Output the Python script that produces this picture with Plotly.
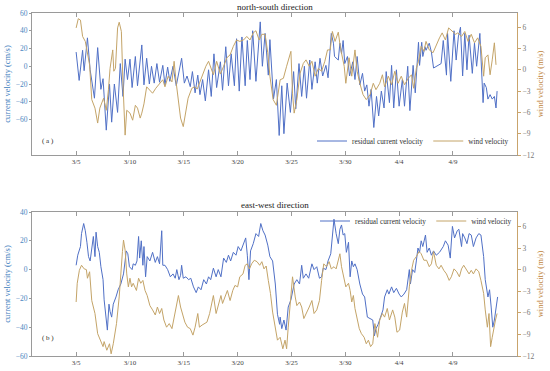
import plotly.graph_objects as go
from plotly.subplots import make_subplots

# x = day counted from 1 March (3/5 -> 5, 4/4 -> 35)
tick_days = [5, 10, 15, 20, 25, 30, 35, 40]
tick_labels = ["3/5", "3/10", "3/15", "3/20", "3/25", "3/30", "4/4", "4/9"]

# (a) north-south residual current velocity (cm/s)
ns_current = [(5.0,16),(5.28,-16),(5.6,18),(5.74,-5),(6.05,32),(6.3,-4),(6.7,-36),(7.0,21),(7.3,-26),(7.5,-14),
 (7.8,-72),(8.1,-20),(8.3,-63),(8.55,-20),(8.85,-52),(9.1,3),(9.35,-34),(9.55,8),(9.77,-15),(10.0,8),
 (10.2,-24),(10.5,11),(10.7,-22),(11.1,24),(11.3,-21),(11.55,9),(11.8,-20),(12.0,0),(12.25,-19),(12.5,3),
 (12.75,-18),(13.05,1),(13.25,-21),(13.5,-1),(13.7,-17),(14.0,0),(14.3,-22),(14.8,9),(15.05,-19),(15.3,-11),
 (15.6,-23),(15.8,-6),(16.05,-30),(16.3,-10),(16.5,-32),(16.75,-15),(17.0,-39),(17.3,-4),(17.55,-34),(17.8,14),
 (18.05,-24),(18.4,5),(18.6,-27),(18.9,22),(19.15,-22),(19.4,14),(19.7,-22),(19.9,31),(20.15,-28),(20.4,33),
 (20.7,-22),(20.9,29),(21.15,-15),(21.4,40),(21.7,-17),(22.1,50),(22.3,0),(22.55,37),(22.85,-10),(23.0,30),
 (23.33,-37),(23.6,-15),(23.86,-78),(24.1,-22),(24.3,-76),(24.6,-19),(24.9,-52),(25.2,-6),(25.4,-48),(25.7,3),
 (25.95,-34),(26.2,0),(26.4,-36),(26.7,7),(26.9,-26),(27.2,5),(27.4,-19),(27.65,9),(27.9,-11),(28.2,1),
 (28.4,-13),(28.7,37),(28.9,26),(29.0,11),(29.35,7),(29.5,26),(29.65,14),(29.8,29),(29.95,3),(30.2,11),
 (30.4,-11),(30.7,5),(30.9,-15),(31.1,11),(31.35,-21),(31.6,-8),(31.8,-28),(32.0,-21),(32.2,-45),(32.4,-26),
 (32.65,-69),(32.9,-34),(33.1,-56),(33.35,-28),(33.6,-47),(33.8,-6),(34.1,-41),(34.3,1),(34.5,-47),(34.75,-4),
 (35.0,-45),(35.3,-15),(35.5,-45),(35.8,0),(36.0,-50),(36.3,1),(36.5,-30),(36.8,27),(36.9,1),(37.1,27),
 (37.2,11),(37.4,22),(37.5,18),(37.8,26),(38.0,16),(38.2,-2),(38.9,3),(39.1,29),(39.4,-10),(39.5,37),
 (39.8,-17),(40.1,40),(40.3,7),(40.5,33),(40.7,44),(40.9,-11),(41.1,37),(41.3,-4),(41.5,35),(41.8,-8),
 (42.0,26),(42.2,0),(42.5,37),(42.8,-41),(42.9,-19),(43.1,-24),(43.25,-37),(43.45,-32),(43.65,-37),(43.85,-34),
 (44.0,-47),(44.1,-28)]

# (a) north-south wind velocity (m/s)
ns_wind = [(5.0,5.9),(5.2,7.2),(5.4,7.0),(5.6,4.7),(5.85,4.0),(6.05,2.6),(6.25,0.7),(6.45,-4.2),(6.75,-5.4),(7.0,-7.5),
 (7.2,-5.4),(7.55,-4.0),(7.8,-5.7),(8.0,-2.8),(8.15,0.2),(8.4,2.8),(8.5,-0.2),(8.65,0.2),(8.85,5.9),(9.0,6.7),
 (9.2,5.4),(9.35,-1.9),(9.55,-9.2),(9.7,-5.7),(10.0,-6.1),(10.25,-7.1),(10.5,-5.0),(10.7,-5.4),(10.95,-6.8),(11.1,-6.1),
 (11.3,-4.8),(11.55,-2.4),(11.8,-2.8),(12.1,-3.3),(12.4,-2.6),(12.75,-1.9),(13.05,-1.4),(13.25,-2.4),(13.55,-0.9),(13.9,-1.7),
 (14.1,1.2),(14.3,-1.9),(14.5,-4.2),(14.7,-6.8),(14.95,-8.0),(15.2,-5.7),(15.4,-4.0),(15.75,-2.6),(16.0,-2.4),(16.25,-2.7),
 (16.5,-1.7),(16.75,-0.5),(17.05,0.5),(17.3,1.2),(17.55,0.0),(17.75,-0.7),(18.05,1.2),(18.4,-0.6),(18.7,0.5),(19.0,1.7),
 (19.3,2.1),(19.6,3.3),(19.9,4.2),(20.2,4.0),(20.55,4.2),(20.85,4.7),(21.15,4.2),(21.45,5.2),(21.7,5.5),(22.0,4.2),
 (22.25,5.0),(22.55,5.0),(22.8,2.4),(23.0,-0.9),(23.3,-4.2),(23.6,-5.0),(23.95,-1.4),(24.25,-1.2),(24.55,0.5),(24.95,2.6),
 (25.1,-3.3),(25.25,-6.1),(25.5,-4.2),(25.8,-0.5),(26.1,0.9),(26.35,1.4),(26.65,0.5),(26.9,1.2),(27.2,-0.9),(27.5,0.2),
 (27.8,-0.2),(28.1,1.2),(28.35,2.8),(28.6,2.8),(28.8,5.4),(29.05,4.0),(29.35,5.3),(29.55,3.1),(29.9,0.5),(30.05,-1.9),
 (30.35,1.7),(30.6,-0.9),(30.9,2.8),(31.1,-0.2),(31.35,-1.9),(31.65,-3.5),(31.95,-4.2),(32.3,-3.5),(32.6,-1.9),(32.85,-2.8),
 (33.2,-1.9),(33.45,-0.7),(33.65,-2.4),(34.0,-0.9),(34.3,-2.1),(34.6,-0.2),(34.9,-1.9),(35.2,-0.9),(35.5,-2.1),(35.85,-1.2),
 (36.15,-0.7),(36.35,-2.6),(36.6,0.2),(36.8,1.2),(37.05,3.3),(37.3,2.6),(37.5,4.0),(37.8,2.8),(38.15,2.4),(38.45,3.5),
 (38.75,4.5),(39.0,5.2),(39.3,4.2),(39.6,5.9),(39.95,5.4),(40.25,5.0),(40.45,5.2),(40.8,4.7),(41.1,5.4),(41.4,4.0),
 (41.7,5.0),(42.0,3.8),(42.3,4.5),(42.6,3.3),(42.85,-0.9),(43.0,1.7),(43.25,2.1),(43.45,-0.7),(43.65,1.4),(43.85,3.8),
 (44.0,0.7)]

# (b) east-west residual current velocity (cm/s)
ew_current = [(5.0,3),(5.15,10),(5.4,16),(5.5,25),(5.7,32),(5.85,27),(6.0,19),(6.15,9),(6.3,6),(6.5,16),
 (6.6,23),(6.75,9),(6.85,26),(7.0,16),(7.15,12),(7.3,2),(7.5,-7),(7.6,-21),(7.8,-37),(7.9,-42),
 (8.05,-24),(8.15,-29),(8.3,-33),(8.45,-24),(8.7,-19),(8.9,-14),(9.15,-10),(9.4,-3),(9.55,6),(9.65,13),
 (9.8,11),(9.95,2),(10.2,0),(10.3,4),(10.5,3),(10.65,6),(10.8,23),(10.9,8),(11.05,20),(11.2,3),
 (11.3,16),(11.45,-5),(11.6,9),(11.85,6),(12.1,12),(12.35,5),(12.55,9),(12.75,4),(12.95,27),(13.05,3),
 (13.25,3),(13.5,0),(13.75,-5),(14.0,-3),(14.2,-6),(14.35,0),(14.55,-7),(14.7,-4),(14.8,3),(14.95,-6),
 (15.2,-5),(15.45,-7),(15.65,-6),(15.9,-12),(16.15,-16),(16.35,-12),(16.6,-14),(16.85,-7),(17.1,-10),(17.3,-5),
 (17.5,-7),(17.75,1),(18.0,-5),(18.2,0),(18.45,-5),(18.7,8),(18.95,5),(19.15,10),(19.35,6),(19.6,12),
 (19.85,10),(20.05,16),(20.3,13),(20.55,18),(20.75,22),(20.9,10),(21.05,-7),(21.2,13),(21.45,18),(21.7,25),
 (21.95,23),(22.15,32),(22.35,27),(22.55,24),(22.8,17),(23.0,9),(23.25,6),(23.5,-10),(23.7,-31),(23.9,-38),
 (23.95,-33),(24.1,-41),(24.3,-35),(24.5,-42),(24.7,-26),(24.95,-21),(25.1,-14),(25.25,-10),(25.5,-7),(25.75,-10),
 (25.95,3),(26.1,-6),(26.35,-3),(26.6,-6),(26.9,4),(27.1,0),(27.35,2),(27.6,-6),(27.8,-5),(27.95,1),
 (28.2,0),(28.4,6),(28.65,11),(28.8,25),(28.95,35),(29.15,25),(29.35,18),(29.5,28),(29.65,31),(29.8,24),
 (29.95,25),(30.1,12),(30.3,19),(30.45,-5),(30.6,6),(30.75,2),(30.9,4),(31.1,0),(31.35,-10),(31.6,-17),
 (31.8,-19),(32.05,-33),(32.3,-34),(32.55,-35),(32.7,-46),(32.85,-41),(33.05,-38),(33.3,-33),(33.5,-28),(33.65,-19),
 (33.9,-14),(34.05,-17),(34.3,-12),(34.5,-16),(34.75,-13),(35.0,-17),(35.2,-19),(35.45,-17),(35.7,-14),(35.95,0),
 (36.05,-10),(36.25,0),(36.45,-2),(36.6,6),(36.75,15),(36.9,12),(37.05,20),(37.2,16),(37.45,24),(37.6,12),
 (37.8,15),(38.0,10),(38.2,13),(38.45,10),(38.75,12),(39.1,16),(39.3,20),(39.55,17),(39.75,8),(39.95,30),
 (40.15,22),(40.4,27),(40.55,28),(40.8,16),(40.9,25),(41.1,22),(41.3,18),(41.5,25),(41.7,24),(41.9,16),
 (42.15,22),(42.4,25),(42.6,24),(42.85,9),(43.0,-7),(43.25,-19),(43.4,-14),(43.55,-26),(43.7,-40),(43.85,-35),
 (44.0,-26),(44.15,-19)]

# (b) east-west wind velocity (m/s)
ew_wind = [(5.0,-4.5),(5.1,-1.9),(5.3,-0.1),(5.5,0.6),(5.75,0.1),(5.95,0.0),(6.05,-1.2),(6.25,-0.3),(6.45,-4.3),(6.75,-6.1),
 (7.0,-8.9),(7.25,-9.8),(7.5,-10.7),(7.6,-10.0),(7.85,-11.2),(8.1,-10.3),(8.25,-11.7),(8.45,-10.3),(8.6,-8.9),(8.75,-7.5),
 (9.0,-3.8),(9.15,-0.1),(9.3,2.5),(9.4,4.1),(9.55,2.7),(9.7,-0.6),(9.85,-2.4),(10.0,-1.2),(10.15,-2.4),(10.3,-1.9),
 (10.6,-2.9),(10.8,-1.2),(11.0,-1.9),(11.2,-1.5),(11.4,-2.9),(11.6,-3.6),(11.85,-5.0),(12.1,-5.6),(12.35,-6.3),(12.55,-5.2),
 (12.75,-6.1),(12.95,-5.4),(13.15,-7.0),(13.4,-8.0),(13.65,-7.5),(13.9,-8.2),(14.1,-6.6),(14.3,-4.7),(14.5,-3.6),(14.7,-5.2),
 (14.9,-6.1),(15.1,-7.3),(15.35,-8.0),(15.6,-8.2),(15.85,-9.1),(16.05,-8.0),(16.3,-6.1),(16.45,-8.0),(16.7,-7.7),(16.9,-7.5),
 (17.15,-7.3),(17.4,-6.1),(17.6,-4.5),(17.75,-3.6),(18.0,-6.1),(18.2,-5.0),(18.45,-3.6),(18.6,-4.7),(18.85,-3.8),(19.05,-2.9),
 (19.3,-4.3),(19.55,-2.9),(19.75,-2.2),(20.0,-2.4),(20.2,-1.0),(20.5,-0.6),(20.7,0.6),(20.9,0.8),(21.1,0.1),(21.3,0.8),
 (21.55,1.3),(21.8,1.1),(22.05,0.6),(22.25,1.1),(22.45,0.1),(22.65,0.5),(22.85,-1.5),(23.05,-3.3),(23.25,-5.9),(23.5,-8.0),
 (23.7,-9.8),(23.95,-9.4),(24.2,-11.0),(24.4,-9.8),(24.55,-11.0),(24.7,-8.0),(24.95,-2.9),(25.1,-1.0),(25.35,-3.8),(25.5,-5.0),
 (25.75,-4.5),(25.95,-5.2),(26.15,-6.8),(26.4,-6.1),(26.65,-5.2),(26.9,-4.3),(27.1,-6.1),(27.35,-5.6),(27.6,-4.3),(27.8,-1.5),
 (28.0,0.8),(28.25,0.4),(28.5,1.1),(28.7,0.1),(28.95,0.4),(29.15,0.1),(29.35,1.3),(29.5,2.2),(29.65,0.4),(29.9,-1.5),
 (30.05,-2.4),(30.3,-1.9),(30.45,-2.9),(30.6,-4.5),(30.75,-3.6),(30.9,-5.4),(31.1,-6.6),(31.3,-8.2),(31.5,-8.9),(31.75,-9.4),
 (31.95,-10.3),(32.15,-9.8),(32.35,-10.7),(32.55,-10.3),(32.75,-7.5),(33.0,-9.4),(33.2,-7.0),(33.45,-6.1),(33.65,-6.6),(33.9,-5.4),
 (34.1,-7.0),(34.4,-5.6),(34.6,-6.6),(34.8,-8.7),(35.05,-8.4),(35.3,-5.9),(35.5,-4.7),(35.7,-6.6),(35.95,-2.4),(36.15,-0.1),
 (36.35,1.3),(36.6,1.8),(36.85,2.5),(37.05,2.2),(37.3,1.3),(37.55,1.3),(37.8,0.4),(38.0,0.8),(38.2,2.5),(38.45,0.6),
 (38.7,0.1),(38.9,0.6),(39.15,-0.1),(39.4,-0.6),(39.65,-1.5),(39.85,-1.0),(40.1,0.1),(40.35,-0.3),(40.6,-1.0),(40.8,0.1),
 (41.0,0.6),(41.25,-0.1),(41.5,-0.6),(41.7,-0.1),(41.9,-0.6),(42.15,0.1),(42.4,-0.3),(42.6,-1.5),(42.85,-3.3),(43.0,-5.6),
 (43.2,-8.0),(43.35,-6.1),(43.5,-10.7),(43.65,-9.4),(43.8,-8.0),(43.95,-7.0),(44.1,-6.1)]

CUR_COLOR = "#5070c6"
WIND_COLOR = "#c4a468"
FONT = "Liberation Serif"

fig = make_subplots(rows=2, cols=1, specs=[[{"secondary_y": True}], [{"secondary_y": True}]],
                    vertical_spacing=0.15)

def xs(p): return [a for a, _ in p]
def ys(p): return [b for _, b in p]

fig.add_trace(go.Scatter(x=xs(ns_current), y=ys(ns_current), mode="lines", name="residual current velocity",
                         line=dict(color=CUR_COLOR, width=1), legend="legend"), row=1, col=1, secondary_y=False)
fig.add_trace(go.Scatter(x=xs(ns_wind), y=ys(ns_wind), mode="lines", name="wind velocity",
                         line=dict(color=WIND_COLOR, width=1), legend="legend"), row=1, col=1, secondary_y=True)
fig.add_trace(go.Scatter(x=xs(ew_current), y=ys(ew_current), mode="lines", name="residual current velocity",
                         line=dict(color=CUR_COLOR, width=1), legend="legend2"), row=2, col=1, secondary_y=False)
fig.add_trace(go.Scatter(x=xs(ew_wind), y=ys(ew_wind), mode="lines", name="wind velocity",
                         line=dict(color=WIND_COLOR, width=1), legend="legend2"), row=2, col=1, secondary_y=True)

# the page's body margin is removed (post_script), so figure pixels = window pixels
W, H = 550, 371
L, R = 32, 517          # plot-area edges in window pixels
def py(p): return 1 - p / H
def px(p): return (p - L) / (R - L)

xcommon = dict(range=[0.9, 45.95], tickvals=tick_days, ticktext=tick_labels, ticks="inside", ticklen=4,
               showline=True, linecolor="#9a9a9a", linewidth=1, mirror="ticks", tickcolor="#9a9a9a",
               showgrid=False, zeroline=False, automargin=False,
               tickfont=dict(family=FONT, size=7, color="#444"))
fig.update_xaxes(**xcommon)
fig.update_layout(xaxis=dict(domain=[0, 1]), xaxis2=dict(domain=[0, 1]))

ycur = dict(showgrid=False, zeroline=False, showline=True, linecolor="#9a9a9a", linewidth=1,
            ticks="outside", ticklen=2, tickcolor="#9a9a9a", automargin=False,
            tickfont=dict(family=FONT, size=7.5, color="#4a86c0"),
            title=dict(text="current velocity (cm/s)", font=dict(family=FONT, size=8.5, color="#3d7dbd"), standoff=3))
ywind = dict(showgrid=False, zeroline=False, showline=True, linecolor="#c9a46c", linewidth=1,
             ticks="outside", ticklen=3, tickcolor="#c9a46c", range=[-12, 8], tickvals=[-12, -9, -6, -3, 0, 3, 6],
             automargin=False, tickfont=dict(family=FONT, size=7.5, color="#777"),
             title=dict(text="wind velocity (m/s)", font=dict(family=FONT, size=8.5, color="#c0843c"), standoff=3))

fig.update_layout(
    yaxis=dict(**ycur, range=[-100, 60], tickvals=[-60, -40, -20, 0, 20, 40, 60], domain=[py(155), py(13)]),
    yaxis2=dict(**ywind),
    yaxis3=dict(**ycur, range=[-60, 40], tickvals=[-60, -40, -20, 0, 20, 40], domain=[py(356), py(212)]),
    yaxis4=dict(**ywind),
)

leg = dict(orientation="h", xanchor="left", yanchor="middle", bgcolor="rgba(0,0,0,0)",
           font=dict(family=FONT, size=7.3, color="#333"), itemwidth=30, tracegroupgap=0)
fig.update_layout(
    width=W, height=H, margin=dict(l=L, r=W - R, t=0, b=0, autoexpand=False),
    plot_bgcolor="white", paper_bgcolor="white",
    font=dict(family=FONT, size=8, color="#333"),
    legend=dict(**leg, x=px(312), y=py(141)),
    legend2=dict(**leg, x=px(315), y=py(221)),
    showlegend=True,
)

fig.add_annotation(text="north-south direction", x=px(275), xref="paper", y=py(7), yref="paper",
                   showarrow=False, font=dict(family=FONT, size=9, color="#222"), yanchor="middle")
fig.add_annotation(text="east-west direction", x=px(275), xref="paper", y=py(205), yref="paper",
                   showarrow=False, font=dict(family=FONT, size=9, color="#222"), yanchor="middle")
fig.add_annotation(text="( a )", x=px(40), xref="paper", y=py(141), yref="paper",
                   showarrow=False, font=dict(family=FONT, size=7, color="#222"), xanchor="left")
fig.add_annotation(text="( b )", x=px(40), xref="paper", y=py(344), yref="paper",
                   showarrow=False, font=dict(family=FONT, size=7, color="#222"), xanchor="left")

fig.write_html("out.html", config={"displayModeBar": False},
               post_script="document.body.style.margin='0px';")
